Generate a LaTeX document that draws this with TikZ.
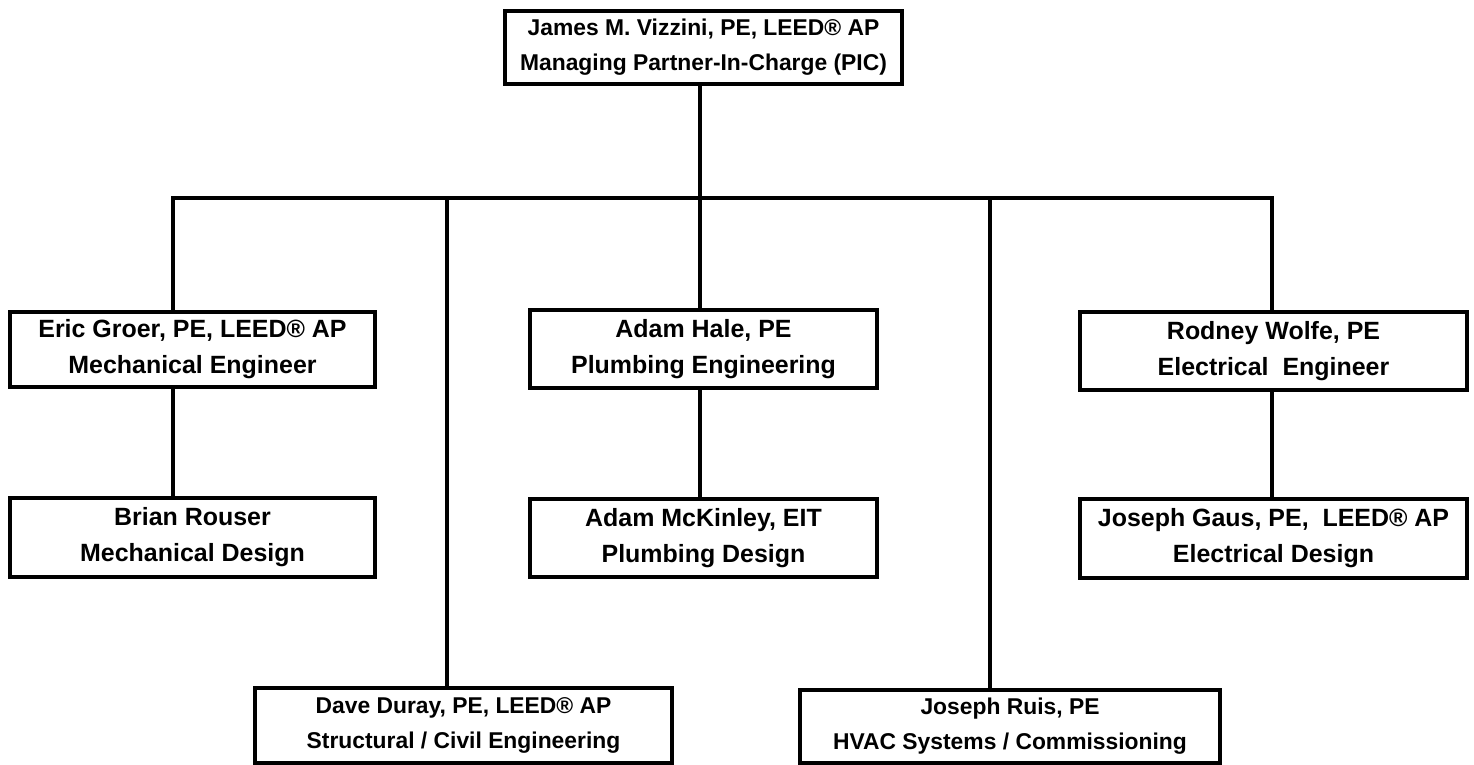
\documentclass[tikz,border=0pt]{standalone}
\usepackage{fontspec}
\setmainfont{Liberation Sans}
\usetikzlibrary{positioning}
\tikzset{
  person/.style={draw, line width=2.2pt, align=center, inner sep=0pt, font=\fontsize{13}{20}\selectfont\bfseries},
  staff/.style={person, font=\fontsize{14.2}{20.5}\selectfont\bfseries},
  link/.style={line width=2.2pt}
}
\begin{document}
\begin{tikzpicture}[x=0.2mm,y=-0.2mm]
    \useasboundingbox (0,0) rectangle (1474,765);

    \node (pic) at (703.5,47.5) [person, minimum width=79.4mm, minimum height=14.6mm]{James M. Vizzini, PE, LEED® AP\\Managing Partner-In-Charge (PIC)};

    \node (eric) at (192.5,349.5) [staff, minimum width=73mm, minimum height=15mm]{Eric Groer, PE, LEED® AP\\Mechanical Engineer};
    \node (brian) at (192.5,537.5) [staff, minimum width=73mm, minimum height=15.8mm]{Brian Rouser\\Mechanical Design};

    \node (hale) at (703.5,349) [staff, minimum width=69.4mm, minimum height=15.6mm]{Adam Hale, PE\\Plumbing Engineering};
    \node (mckinley) at (703.5,538) [staff, minimum width=69.4mm, minimum height=15.6mm]{Adam McKinley, EIT\\Plumbing Design};

    \node (wolfe) at (1273.5,351) [staff, minimum width=77.4mm, minimum height=15.6mm]{Rodney Wolfe, PE\\Electrical~ Engineer};
    \node (gaus) at (1273.5,538.5) [staff, minimum width=77.4mm, minimum height=15.8mm]{Joseph Gaus, PE,~ LEED® AP\\Electrical Design};

    \node (duray) at (463.5,725.5) [person, minimum width=83.4mm, minimum height=15mm]{Dave Duray, PE, LEED® AP\\Structural / Civil Engineering};
    \node (ruis) at (1010,726.5) [person, minimum width=84mm, minimum height=14.6mm]{Joseph Ruis, PE\\HVAC Systems / Commissioning};

    \coordinate (b1) at (173,198);
    \coordinate (b2) at (447,198);
    \coordinate (b3) at (700,198);
    \coordinate (b4) at (990,198);
    \coordinate (b5) at (1272,198);

    \draw[link] (pic.south -| b3) -- (b3);
    \draw[link] (eric.north -| b1) -- (b1) -- (b5) -- (wolfe.north -| b5);
    \draw[link] (b2) -- (duray.north -| b2);
    \draw[link] (b3) -- (hale.north -| b3);
    \draw[link] (b4) -- (ruis.north -| b4);

    \draw[link] (eric.south -| b1) -- (brian.north -| b1);
    \draw[link] (hale.south -| b3) -- (mckinley.north -| b3);
    \draw[link] (wolfe.south -| b5) -- (gaus.north -| b5);
\end{tikzpicture}
\end{document}
